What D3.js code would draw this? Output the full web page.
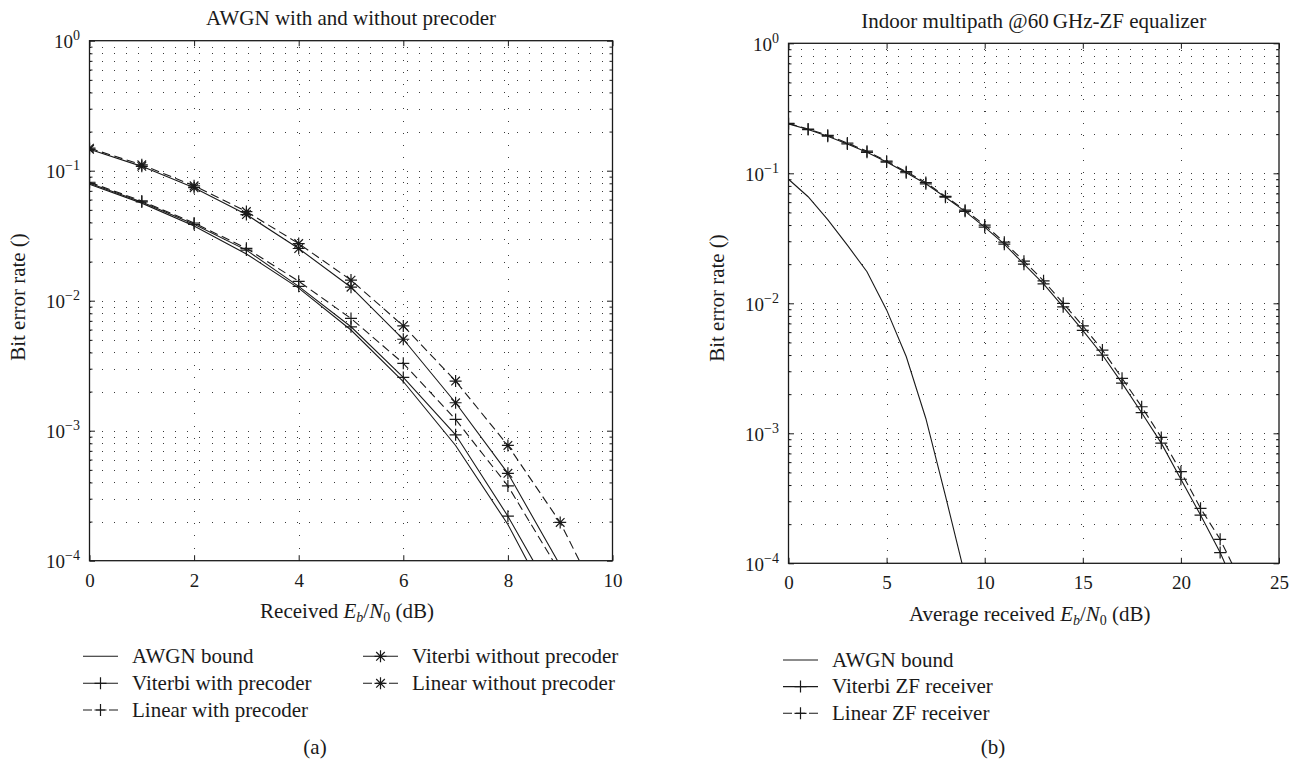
<!DOCTYPE html>
<html><head><meta charset="utf-8">
<script src="https://cdn.jsdelivr.net/npm/d3@7"></script>
<style>
body{margin:0;background:#fff}
text{font-family:"Liberation Serif","DejaVu Serif",serif;fill:#1a1a1a}
</style>
</head><body>
<svg id="c" width="1302" height="763"></svg>
<script>
// ---------------- DATA ----------------
// Panel (a): AWGN with and without precoder
const ebn0A = [0,1,2,3,4,5,6,7,8,9,10];
const awgnBoundA      = [0.0786,0.0563,0.0375,0.0229,0.0125,0.00595,0.00239,0.00077,0.00019,0.000033];
const viterbiWithA    = [0.0800,0.0575,0.0387,0.0245,0.0129,0.0063,0.00257,0.00093,0.00022,0.000043];
const linearWithA     = [0.0815,0.0585,0.0396,0.0253,0.0141,0.0073,0.0033,0.00122,0.000376,0.000081];
const viterbiWithoutA = [0.146,0.108,0.0740,0.0460,0.0252,0.0127,0.00505,0.00164,0.00047,0.000092];
const linearWithoutA  = [0.149,0.111,0.0765,0.0485,0.0275,0.0144,0.0064,0.00241,0.00077,0.000197,0.000031];
const namesA = ["AWGN bound","Viterbi with precoder","Linear with precoder","Viterbi without precoder","Linear without precoder"];
const xTicksA = [0,2,4,6,8,10];

// Panel (b): Indoor multipath @60 GHz - ZF equalizer
const ebn0B = [0,1,2,3,4,5,6,7,8,9,10,11,12,13,14,15,16,17,18,19,20,21,22,23];
const awgnBoundB  = [0.090,0.066,0.044,0.028,0.0175,0.0089,0.0039,0.0013,0.00033,0.00008,0.000015];
const viterbiZFB  = [0.240,0.217,0.193,0.168,0.145,0.122,0.101,0.083,0.0655,0.051,0.0385,0.0285,0.0200,0.0141,0.0094,0.0062,0.0040,0.00243,0.00144,0.00084,0.000443,0.000235,0.000121,0.000055];
const linearZFB   = [0.242,0.219,0.196,0.171,0.148,0.124,0.103,0.085,0.0665,0.052,0.0400,0.0295,0.0211,0.0149,0.0100,0.0067,0.00437,0.00265,0.0016,0.00093,0.000507,0.000265,0.000153,0.000075];
const namesB = ["AWGN bound","Viterbi ZF receiver","Linear ZF receiver"];
const xTicksB = [0,5,10,15,20,25];

const yTickValues = [1,1e-1,1e-2,1e-3,1e-4];
const yTickExps = ["0","\u22121","\u22122","\u22123","\u22124"];

// ---------------- DRAWING ----------------
const svg = d3.select("#c");
const INK = "#1a1a1a";
const DASH = "8.5,4.5";

const markerPath = {
  plus: "M-6,0H6M0,-6V6",
  star: "M-6,0H6M0,-6V6M-4.3,-4.3L4.3,4.3M-4.3,4.3L4.3,-4.3",
  none: ""
};

function drawPanel(p){
  const g = svg.append("g");
  const [X0,X1] = p.x.range();
  const [Y1,Y0] = p.y.range();
  const clipId = "clip"+p.id;
  svg.append("defs").append("clipPath").attr("id",clipId)
    .append("rect").attr("x",X0).attr("y",Y0).attr("width",X1-X0).attr("height",Y1-Y0);

  const allLog = [];
  for(let e=-4;e<0;e++) for(let k=1;k<10;k++) allLog.push(+(k*Math.pow(10,e)).toPrecision(3));
  const minorLog = allLog.filter(v=>!yTickValues.includes(v));

  // grid
  const grid = g.append("g").attr("stroke","#3a3a3a").attr("stroke-width",1)
    .attr("stroke-dasharray","1,11.2").attr("shape-rendering","crispEdges");
  grid.selectAll("line.h").data(allLog.filter(v=>v>1.0001e-4)).join("line").attr("class","h")
    .attr("x1",X0).attr("x2",X1)
    .attr("y1",d=>Math.round(p.y(d))+0.5).attr("y2",d=>Math.round(p.y(d))+0.5);
  grid.selectAll("line.v").data(p.xTicks.slice(1,-1)).join("line").attr("class","v")
    .attr("y1",Y1).attr("y2",Y0)
    .attr("x1",d=>Math.round(p.x(d))+0.5).attr("x2",d=>Math.round(p.x(d))+0.5);

  // curves
  const line = d3.line().x(d=>p.x(d[0])).y(d=>p.y(d[1]));
  const curves = g.append("g").attr("clip-path",`url(#${clipId})`);
  p.series.forEach(s=>{
    const pts = s.values.map((v,i)=>[p.ebn0[i],v]);
    curves.append("path").attr("d",line(pts)).attr("fill","none")
      .attr("stroke",INK).attr("stroke-width",1.1)
      .attr("stroke-dasharray",s.dash?DASH:null);
    if(s.marker!=="none"){
      curves.selectAll(null).data(pts.filter(d=>d[1]>=1e-4 && d[1]<=1)).join("path")
        .attr("transform",d=>`translate(${p.x(d[0])},${p.y(d[1])})`)
        .attr("d",markerPath[s.marker]).attr("fill","none")
        .attr("stroke",INK).attr("stroke-width",1.2);
    }
  });

  // axes (ticks inward)
  const styleAxis = sel => { sel.select(".domain").remove();
    sel.selectAll(".tick line").attr("stroke",INK).attr("stroke-width",1); };
  const bottom = g.append("g").attr("transform",`translate(0,${Y1})`)
    .call(d3.axisBottom(p.x).tickValues(p.xTicks).tickSizeInner(-5.5).tickSizeOuter(0).tickPadding(12.5).tickFormat(d3.format("d")))
    .call(styleAxis);
  bottom.selectAll(".tick text").attr("font-size",19).attr("font-family","Liberation Serif").attr("fill",INK);
  g.append("g").attr("transform",`translate(0,${Y0})`)
    .call(d3.axisTop(p.x).tickValues(p.xTicks).tickSizeInner(-5.5).tickSizeOuter(0).tickFormat(""))
    .call(styleAxis);
  const left = g.append("g").attr("transform",`translate(${X0},0)`)
    .call(d3.axisLeft(p.y).tickValues(yTickValues).tickSizeInner(-5.5).tickSizeOuter(0).tickPadding(9.5).tickFormat(""))
    .call(styleAxis);
  left.selectAll(".tick text").each(function(d,i){
    const t = d3.select(this).attr("font-size",19).attr("dy","0.38em").attr("fill",INK);
    t.append("tspan").text("10");
    t.append("tspan").attr("dy",-8).attr("font-size",14).text(yTickExps[i]);
  });
  g.append("g").attr("transform",`translate(${X0},0)`)
    .call(d3.axisLeft(p.y).tickValues(minorLog).tickSizeInner(-3).tickSizeOuter(0).tickFormat(""))
    .call(styleAxis);
  g.append("g").attr("transform",`translate(${X1},0)`)
    .call(d3.axisRight(p.y).tickValues(yTickValues).tickSizeInner(-5.5).tickSizeOuter(0).tickFormat(""))
    .call(styleAxis);
  g.append("g").attr("transform",`translate(${X1},0)`)
    .call(d3.axisRight(p.y).tickValues(minorLog).tickSizeInner(-3).tickSizeOuter(0).tickFormat(""))
    .call(styleAxis);

  // frame
  g.append("rect").attr("x",X0).attr("y",Y0).attr("width",X1-X0).attr("height",Y1-Y0)
    .attr("fill","none").attr("stroke",INK).attr("stroke-width",1.3);

  // title
  g.append("text").attr("x",(X0+X1)/2).attr("y",p.titleY).attr("text-anchor","middle")
    .attr("font-size",21).text(p.title);

  // x label
  const xl = g.append("text").attr("x",(X0+X1)/2 - 4).attr("y",Y1+57.5).attr("text-anchor","middle").attr("font-size",21);
  xl.append("tspan").text(p.xLabelPrefix+" ");
  xl.append("tspan").attr("font-style","italic").text("E");
  xl.append("tspan").attr("font-style","italic").attr("font-size",14).attr("dy",4).text("b");
  xl.append("tspan").attr("dy",-4).text("/");
  xl.append("tspan").attr("font-style","italic").text("N");
  xl.append("tspan").attr("font-size",14).attr("dy",4).text("0");
  xl.append("tspan").attr("dy",-4).text(" (dB)");

  // y label
  g.append("text").attr("transform",`translate(${X0-64.5},${p.yLabelMid}) rotate(-90)`)
    .attr("text-anchor","middle").attr("font-size",21).text("Bit error rate ()");

  // legend
  p.legend.forEach(L=>{
    const s = p.series[L.idx];
    const lg = g.append("g");
    lg.append("line").attr("x1",L.x).attr("x2",L.x+35).attr("y1",L.y-6.7).attr("y2",L.y-6.7)
      .attr("stroke",INK).attr("stroke-width",1.1).attr("stroke-dasharray",s.dash?"9,4":null);
    if(s.marker!=="none"){
      lg.append("path").attr("transform",`translate(${L.x+17.5},${L.y-6.7})`)
        .attr("d",markerPath[s.marker]).attr("fill","none").attr("stroke",INK).attr("stroke-width",1.2);
    }
    lg.append("text").attr("x",L.x+49).attr("y",L.y).attr("font-size",21).text(s.name);
  });

  // caption
  g.append("text").attr("x",p.capX).attr("y",754).attr("text-anchor","middle").attr("font-size",21).text(p.caption);
}

const seriesA = [
  {name:namesA[0], values:awgnBoundA, dash:false, marker:"none"},
  {name:namesA[1], values:viterbiWithA, dash:false, marker:"plus"},
  {name:namesA[2], values:linearWithA, dash:true, marker:"plus"},
  {name:namesA[3], values:viterbiWithoutA, dash:false, marker:"star"},
  {name:namesA[4], values:linearWithoutA, dash:true, marker:"star"}
];
drawPanel({
  id:"a",
  x:d3.scaleLinear().domain([0,10]).range([89.5,612.5]),
  y:d3.scaleLog().domain([1e-4,1]).range([560.7,40.7]),
  xTicks:xTicksA, ebn0:ebn0A, series:seriesA,
  title:"AWGN with and without precoder", titleY:25,
  xLabelPrefix:"Received", yLabelMid:297,
  legend:[{idx:0,x:83,y:663},{idx:1,x:83,y:690},{idx:2,x:83,y:716.7},
          {idx:3,x:363,y:663},{idx:4,x:363,y:690}],
  caption:"(a)", capX:315
});

const seriesB = [
  {name:namesB[0], values:awgnBoundB, dash:false, marker:"none"},
  {name:namesB[1], values:viterbiZFB, dash:false, marker:"plus"},
  {name:namesB[2], values:linearZFB, dash:true, marker:"plus"}
];
drawPanel({
  id:"b",
  x:d3.scaleLinear().domain([0,25]).range([788.5,1279]),
  y:d3.scaleLog().domain([1e-4,1]).range([563.3,43.3]),
  xTicks:xTicksB, ebn0:ebn0B, series:seriesB,
  title:"Indoor multipath @60\u2009GHz-ZF equalizer", titleY:28,
  xLabelPrefix:"Average received", yLabelMid:298,
  legend:[{idx:0,x:783,y:666.7},{idx:1,x:783,y:693.3},{idx:2,x:783,y:720}],
  caption:"(b)", capX:993
});
</script>
</body></html>
